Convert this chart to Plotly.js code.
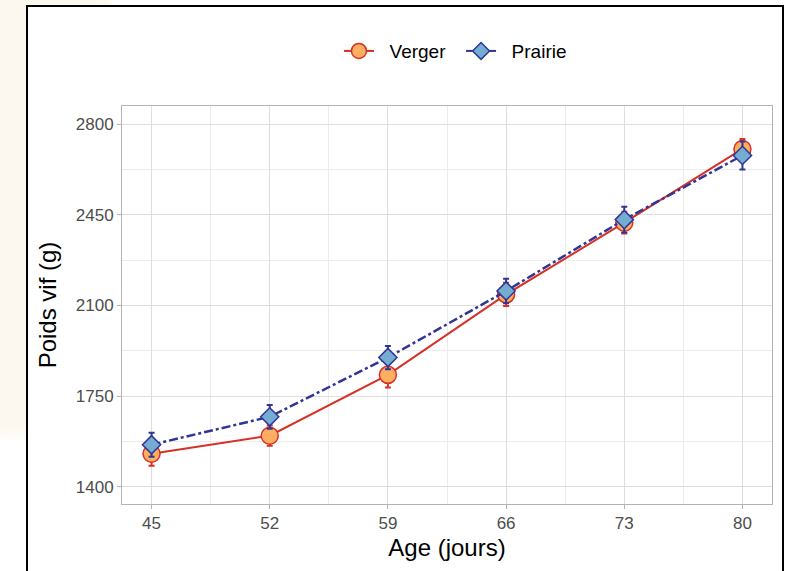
<!DOCTYPE html>
<html>
<head>
<meta charset="utf-8">
<script src="https://cdn.plot.ly/plotly-3.0.1.min.js"></script>
<style>
  html, body { margin: 0; padding: 0; width: 789px; height: 571px; overflow: hidden; background: #ffffff; }
  #beige { position: absolute; left: -30px; top: -30px; width: 140px; height: 465px; background: #fdf8ef; border-radius: 30px; filter: blur(5px); }
  #frame { position: absolute; left: 26px; top: 5px; width: 754px; height: 600px; border: 2px solid #000; background: #ffffff; }
  #chart { position: absolute; left: 0; top: 0; width: 789px; height: 571px; }
</style>
</head>
<body>
<div id="beige"></div>
<div id="frame"></div>
<div id="chart"></div>
<script>
const ages = [45, 52, 59, 66, 73, 80];
const vergerMean = [1527, 1597, 1832, 2143, 2420, 2705];
const vergerErr  = [46, 39, 49, 45, 42, 38];
const prairieMean = [1562, 1670, 1899, 2156, 2432, 2680];
const prairieErr  = [46, 46, 45, 47, 50, 54];
const seriesNames = ['Verger', 'Prairie'];
const yTicks = [1400, 1750, 2100, 2450, 2800];

const red = '#d73027', orange = '#fdae61', navy = '#313695', blue = '#74add1';
const pad = '\u00a0\u00a0';

const traces = [
  {
    x: ages, y: vergerMean, type: 'scatter', mode: 'lines+markers', name: seriesNames[0], showlegend: false,
    line: {color: red, width: 2},
    marker: {symbol: 'circle', size: 17, color: orange, line: {color: red, width: 1.5}},
    error_y: {type: 'data', array: vergerErr, visible: true, color: red, thickness: 2, width: 3}
  },
  {
    x: ages, y: prairieMean, type: 'scatter', mode: 'lines+markers', name: seriesNames[1], showlegend: false,
    line: {color: navy, width: 2.5, dash: 'dashdot'},
    marker: {symbol: 'diamond', size: 14, color: blue, line: {color: navy, width: 1.5}},
    error_y: {type: 'data', array: prairieErr, visible: true, color: navy, thickness: 2, width: 3}
  },
  {
    x: [null], y: [null], type: 'scatter', mode: 'lines+markers', name: pad + seriesNames[0] + pad,
    line: {color: red, width: 2},
    marker: {symbol: 'circle', size: 15, color: orange, line: {color: red, width: 1.5}}
  },
  {
    x: [null], y: [null], type: 'scatter', mode: 'lines+markers', name: pad + seriesNames[1],
    line: {color: navy, width: 2},
    marker: {symbol: 'diamond', size: 13, color: blue, line: {color: navy, width: 1.5}}
  }
];

const layout = {
  width: 789, height: 571,
  margin: {l: 122, r: 17, t: 106, b: 67},
  paper_bgcolor: 'rgba(0,0,0,0)',
  plot_bgcolor: '#ffffff',
  font: {family: '"Liberation Sans", Arial, sans-serif', color: '#000'},
  showlegend: true,
  legend: {
    orientation: 'h', x: 0.513, xanchor: 'center', y: 1.138, yanchor: 'middle',
    font: {size: 19, color: '#000'}, bgcolor: 'rgba(0,0,0,0)'
  },
  xaxis: {
    range: [43.25, 81.75], tickmode: 'array', tickvals: ages, ticktext: ages.map(String),
    showgrid: true, gridcolor: '#dedede', gridwidth: 1,
    minor: {tickmode: 'linear', tick0: 45, dtick: 3.5, showgrid: true, gridcolor: '#ececec', gridwidth: 1, ticks: ''},
    zeroline: false,
    showline: true, mirror: true, linecolor: '#b3b3b3', linewidth: 1,
    ticks: 'outside', ticklen: 4, tickcolor: '#b3b3b3', tickwidth: 1,
    tickfont: {size: 17, color: '#4d4d4d'},
    title: {text: 'Age (jours)', font: {size: 24, color: '#000'}, standoff: 6}
  },
  yaxis: {
    range: [1333, 2871], tickmode: 'array', tickvals: yTicks, ticktext: yTicks.map(String),
    showgrid: true, gridcolor: '#dedede', gridwidth: 1,
    minor: {tickmode: 'linear', tick0: 1400, dtick: 175, showgrid: true, gridcolor: '#ececec', gridwidth: 1, ticks: ''},
    zeroline: false,
    showline: true, mirror: true, linecolor: '#b3b3b3', linewidth: 1,
    ticks: 'outside', ticklen: 4, tickcolor: '#b3b3b3', tickwidth: 1,
    tickfont: {size: 17, color: '#4d4d4d'},
    title: {text: 'Poids vif (g)', font: {size: 24, color: '#000'}, standoff: 12}
  }
};

Plotly.newPlot('chart', traces, layout, {displayModeBar: false, staticPlot: true});
</script>
</body>
</html>
